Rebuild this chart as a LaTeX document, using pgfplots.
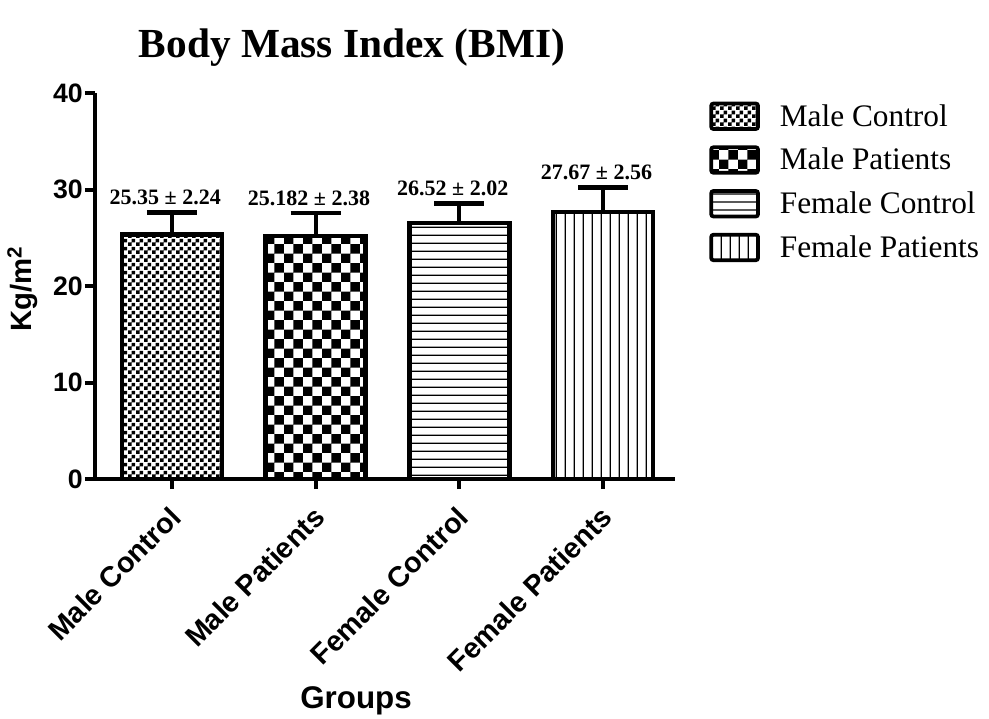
\documentclass[border=0pt]{standalone}
\usepackage{pgfplots}
\pgfplotsset{compat=1.18}
\usepackage{fontspec}
\setmainfont{Liberation Serif}
\setsansfont{Liberation Sans}
\usetikzlibrary{patterns}
\pgfdeclarepatternformonly{finechecker}{\pgfpointorigin}{\pgfpoint{6pt}{6pt}}{\pgfpoint{6pt}{6pt}}{%
  \pgfpathrectangle{\pgfpointorigin}{\pgfpoint{3pt}{3pt}}%
  \pgfpathrectangle{\pgfpoint{3pt}{3pt}}{\pgfpoint{3pt}{3pt}}%
  \pgfusepath{fill}}
\pgfdeclarepatternformonly{coarsechecker}{\pgfpointorigin}{\pgfpoint{14.2pt}{14.2pt}}{\pgfpoint{14.2pt}{14.2pt}}{%
  \pgfpathrectangle{\pgfpointorigin}{\pgfpoint{7.1pt}{7.1pt}}%
  \pgfpathrectangle{\pgfpoint{7.1pt}{7.1pt}}{\pgfpoint{7.1pt}{7.1pt}}%
  \pgfusepath{fill}}
\pgfdeclarepatternformonly{hlines}{\pgfpoint{0pt}{0pt}}{\pgfpoint{12pt}{6.2pt}}{\pgfpoint{12pt}{6.2pt}}{%
  \pgfpathrectangle{\pgfpoint{-1pt}{2.6pt}}{\pgfpoint{14pt}{1pt}}%
  \pgfusepath{fill}}
\pgfdeclarepatternformonly{vlines}{\pgfpoint{0pt}{0pt}}{\pgfpoint{6.9pt}{12pt}}{\pgfpoint{6.9pt}{12pt}}{%
  \pgfpathrectangle{\pgfpoint{2.95pt}{-1pt}}{\pgfpoint{1pt}{14pt}}%
  \pgfusepath{fill}}
\begin{document}
\begin{tikzpicture}
\path[use as bounding box] (0,0) rectangle (741.75pt,538.5pt);
\begin{axis}[
  at={(71.25pt,179.25pt)}, anchor=south west,
  scale only axis, width=435pt, height=289.5pt,
  ybar, bar width=75pt,
  xmin=-0.535, xmax=3.5, ymin=0, ymax=40,
  axis x line=bottom, axis y line=left,
  axis line style={-, line width=3pt},
  xtick={0,1,2,3},
  xticklabels={Male Control, Male Patients, Female Control, Female Patients},
  ytick={0,10,20,30,40},
  tick align=outside, major tick length=7.5pt,
  tick style={line width=3pt, black},
  /pgf/number format/assume math mode=true,
  yticklabel style={font=\sffamily\bfseries\fontsize{20}{23}\selectfont, inner sep=0pt, xshift=-1.5pt},
  xticklabel style={font=\sffamily\bfseries\fontsize{21.5}{24}\selectfont, rotate=45, anchor=north east, xshift=-6.8pt, yshift=-2.8pt},
  xlabel={Groups},
  ylabel={Kg/m\textsuperscript{2}},
  xlabel style={font=\sffamily\bfseries\fontsize{23.5}{26}\selectfont, at={(axis description cs:0.45,-0.575)}, anchor=center},
  ylabel style={font=\sffamily\bfseries\fontsize{22}{25}\selectfont, at={(axis description cs:-0.125,0.492)}, anchor=center},
  clip=false,
  legend style={at={(1.052,0.985)}, anchor=north west, draw=none, fill=none,
    font=\fontsize{23.5}{27}\selectfont, row sep=11pt,
    /tikz/every odd column/.append style={column sep=13pt}},
  legend cell align=left,
  legend image code/.code={\draw[#1, line width=2.8pt, rounded corners=1.5pt] (0pt,-9.5pt) rectangle (35pt,9.5pt);},
  error bars/y dir=plus, error bars/y explicit,
  error bars/error mark=-,
  error bars/error bar style={line width=3pt, black},
  error bars/error mark options={rotate=90, line width=3.5pt, mark size=18.75pt, black},
]
\addplot[bar shift=0pt, draw=black, line width=3.3pt, pattern=finechecker, pattern color=black]
  coordinates {(0,25.35) +- (0,2.24)};
\addplot[bar shift=0pt, draw=black, line width=3.3pt, pattern=coarsechecker, pattern color=black]
  coordinates {(1,25.182) +- (0,2.38)};
\addplot[bar shift=0pt, draw=black, line width=3.3pt, pattern=hlines, pattern color=black]
  coordinates {(2,26.52) +- (0,2.02)};
\addplot[bar shift=0pt, draw=black, line width=3.3pt, pattern=vlines, pattern color=black]
  coordinates {(3,27.67) +- (0,2.56)};
\legend{Male Control, Male Patients, Female Control, Female Patients}
\addplot[forget plot, bar shift=0pt, draw=none, fill=none, error bars/y dir=none,
  point meta=explicit symbolic, nodes near coords,
  nodes near coords style={anchor=base, xshift=-5pt, yshift=6pt, font=\bfseries\fontsize{16.5}{18}\selectfont, black}]
  coordinates {(0,27.59) [25.35 ± 2.24] (1,27.562) [25.182 ± 2.38] (2,28.54) [26.52 ± 2.02] (3,30.23) [27.67 ± 2.56]};
\end{axis}
\node[font=\bfseries\fontsize{31}{36}\selectfont] at (264pt,503pt) {Body Mass Index (BMI)};
\end{tikzpicture}
\end{document}
